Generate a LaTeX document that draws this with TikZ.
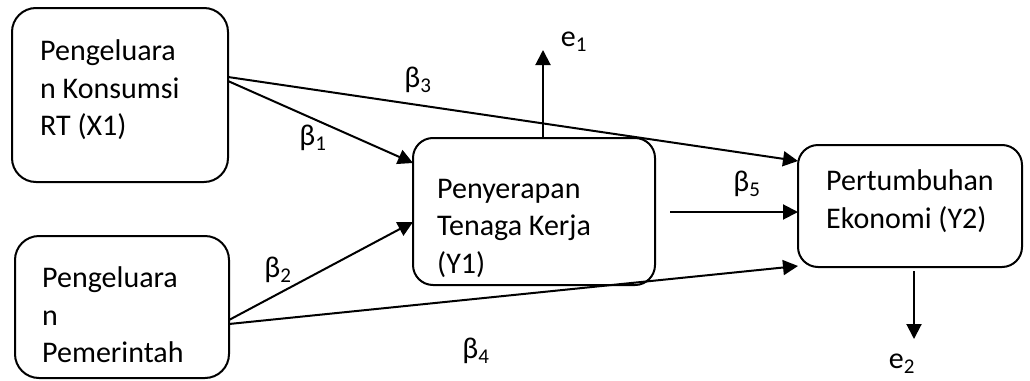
\documentclass[tikz,border=0pt]{standalone}
\usepackage{fontspec}
\setmainfont{Carlito}
\usetikzlibrary{arrows.meta,calc}
\begin{document}
\begin{tikzpicture}[x=1pt,y=-1pt,
  box/.style={draw,line width=2pt,outer sep=0pt,inner sep=0pt},
  txt/.style={align=left,anchor=west,inner sep=0pt,font=\fontsize{30}{37.5}\selectfont},
  lbl/.style={inner sep=0pt,font=\fontsize{30}{34}\selectfont},
  conn/.style={line width=2pt,-{Triangle[length=15pt,width=15pt]}}]
\useasboundingbox (0,0) rectangle (1030,380);

% variable boxes
\node[box,rounded corners=24pt,minimum width=216pt,minimum height=174pt] (x1) at (120,95) {};
\node[box,rounded corners=24pt,minimum width=214pt,minimum height=142pt] (x2) at (122,307) {};
\node[box,rounded corners=20pt,minimum width=242pt,minimum height=147pt] (y1) at (534,211.5) {};
\node[box,rounded corners=20pt,minimum width=224pt,minimum height=122pt] (y2) at (910,206) {};

% box texts
\node[txt] (x1t) at (40,90) {Pengeluara\\n Konsumsi\\RT (X1)};
\node[txt] (x2t) at (42,315) {Pengeluara\\n\\Pemerintah};
\node[txt] (y1t) at (437,228) {Penyerapan\\Tenaga Kerja\\(Y1)};
\node[txt] (y2t) at (826,201) {Pertumbuhan\\Ekonomi (Y2)};

% residual end points
\coordinate (e1end) at (543,50);
\coordinate (e2end) at (914,339);

% paths
\draw[conn] ([yshift=18pt]x1.east) -- ([yshift=45pt]y2.west);
\draw[conn] ([yshift=14pt]x1.east) -- ([yshift=48.5pt]y1.west);
\draw[conn] ([yshift=-13pt]x2.east) -- ([yshift=-10.5pt]y1.west);
\draw[conn] ([yshift=-17pt]x2.east) -- ([yshift=-60pt]y2.west);
\draw[conn] ([xshift=15pt,yshift=-0.5pt]y1.east) -- ([yshift=-6pt]y2.west);
\draw[conn] ([xshift=9pt]y1.north) -- (e1end);
\draw[conn] ([xshift=4pt,yshift=-4pt]y2.south) -- (e2end);

% coefficient labels
\node[lbl] (b1) at (313,138) {β\textsubscript{1}};
\node[lbl] (b2) at (278,270) {β\textsubscript{2}};
\node[lbl] (b3) at (418,80) {β\textsubscript{3}};
\node[lbl] (b4) at (476,351) {β\textsubscript{4}};
\node[lbl] (b5) at (747,184) {β\textsubscript{5}};
\node[lbl] (e1) at (574,42) {e\textsubscript{1}};
\node[lbl] (e2) at (902,364) {e\textsubscript{2}};
\end{tikzpicture}
\end{document}
